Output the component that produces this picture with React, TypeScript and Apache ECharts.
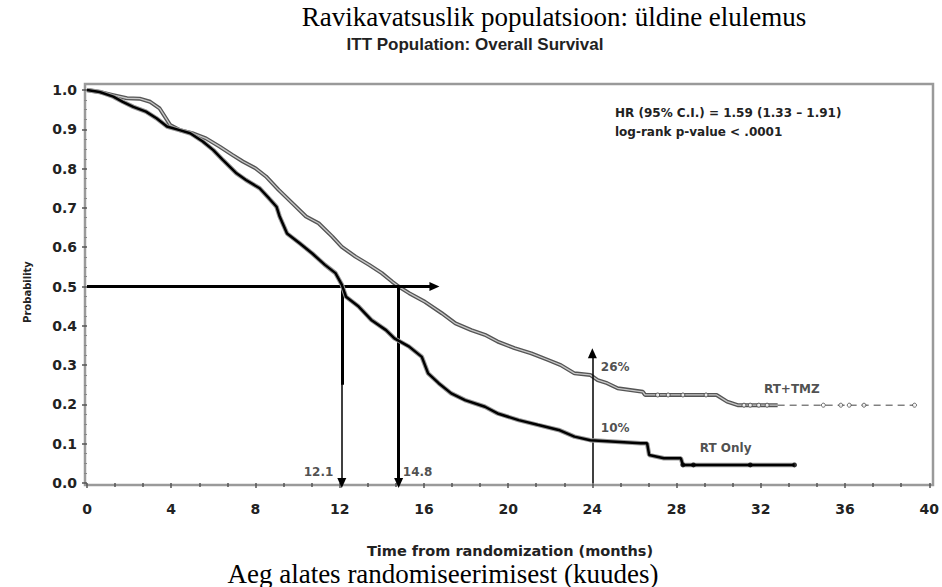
import React, { useEffect, useRef } from "react";
import * as echarts from "echarts";

// Kaplan-Meier estimates: [months, survival probability]
const rtTmzCurve: [number, number][] = [
  [0, 1.0], [0.6, 0.995], [1.25, 0.987], [1.9, 0.979], [2.5, 0.978], [3.0, 0.97],
  [3.45, 0.953], [3.7, 0.932], [3.95, 0.911], [4.4, 0.898], [5.0, 0.89], [5.65, 0.877],
  [6.3, 0.856], [6.9, 0.835], [7.4, 0.818], [8.0, 0.801], [8.5, 0.78], [9.1, 0.746],
  [9.75, 0.712], [10.4, 0.678], [11.0, 0.661], [11.65, 0.627], [12.1, 0.601], [12.75, 0.576],
  [13.4, 0.555], [14.0, 0.534], [14.5, 0.512], [14.8, 0.5], [15.3, 0.483], [16.05, 0.461],
  [16.85, 0.432], [17.5, 0.406], [18.25, 0.389], [18.9, 0.377], [19.5, 0.36], [20.3, 0.343],
  [21.1, 0.33], [21.9, 0.313], [22.5, 0.3], [23.15, 0.279], [23.9, 0.275], [24.25, 0.262],
  [24.7, 0.254], [25.2, 0.241], [26.4, 0.232], [26.5, 0.224], [29.9, 0.224], [30.4, 0.207],
  [30.9, 0.198], [32.8, 0.198],
];
const rtTmzTail: [number, number][] = [[32.8, 0.198], [39.3, 0.198]];
const rtTmzCensored: [number, number][] = [
  [27.1, 0.224], [27.6, 0.224], [28.3, 0.224], [29.4, 0.224], [31.2, 0.198], [31.5, 0.198],
  [31.9, 0.198], [32.3, 0.198], [34.97, 0.198], [35.8, 0.198], [36.2, 0.198], [36.9, 0.198],
  [39.3, 0.198],
];

const rtOnlyCurve: [number, number][] = [
  [0, 1.0], [0.6, 0.995], [1.25, 0.983], [1.7, 0.97], [2.2, 0.957], [2.8, 0.945],
  [3.3, 0.928], [3.8, 0.907], [4.4, 0.898], [4.9, 0.89], [5.5, 0.869], [6.0, 0.847],
  [6.45, 0.822], [7.1, 0.788], [7.55, 0.771], [8.2, 0.75], [8.65, 0.724], [9.0, 0.703],
  [9.15, 0.678], [9.5, 0.635], [10.1, 0.61], [10.7, 0.584], [11.3, 0.555], [11.8, 0.534],
  [12.1, 0.505], [12.3, 0.474], [12.9, 0.449], [13.5, 0.415], [14.2, 0.389], [14.6, 0.368],
  [15.3, 0.347], [15.9, 0.321], [16.2, 0.279], [16.7, 0.254], [17.3, 0.228], [17.95, 0.211],
  [18.9, 0.194], [19.5, 0.177], [20.5, 0.16], [21.4, 0.148], [22.4, 0.135], [23.15, 0.118],
  [23.9, 0.109], [26.3, 0.101], [26.6, 0.101], [26.7, 0.071], [27.4, 0.063], [28.2, 0.063],
  [28.3, 0.046], [33.6, 0.046],
];
const rtOnlyCensored: [number, number][] = [[28.3, 0.046], [28.8, 0.046], [31.5, 0.046], [33.6, 0.046]];

const medianRtOnly = 12.1;
const medianRtTmz = 14.8;
const landmarkMonth = 24;

const annotations: { text: string; at: [number, number]; align: "left" | "right" }[] = [
  { text: "12.1", at: [11.7, 0.028], align: "right" },
  { text: "14.8", at: [15.0, 0.028], align: "left" },
  { text: "26%", at: [24.4, 0.295], align: "left" },
  { text: "10%", at: [24.4, 0.14], align: "left" },
  { text: "RT+TMZ", at: [32.15, 0.24], align: "left" },
  { text: "RT Only", at: [29.1, 0.089], align: "left" },
];

const SANS = "'Liberation Sans', Arial, sans-serif";
const WIDE = "'DejaVu Sans', Verdana, sans-serif";
const SERIF = "'Liberation Serif', 'Times New Roman', serif";

export default function App() {
  const ref = useRef<HTMLDivElement>(null);
  useEffect(() => {
    if (!ref.current) return;
    const chart = echarts.init(ref.current, undefined, { renderer: "svg" });
    const arrowLine = (from: [number, number], to: [number, number], width: number, arrow: boolean) => ({
      silent: true,
      label: { show: false },
      symbol: ["none", arrow ? "triangle" : "none"],
      symbolSize: [9, 10],
      lineStyle: { color: "#000", width, type: "solid" },
      data: [[{ coord: from }, { coord: to }]],
    });
    chart.setOption({
      animation: false,
      backgroundColor: "#fff",
      grid: { left: 87, right: 10, top: 90, bottom: 104 },
      xAxis: {
        type: "value", min: 0, max: 40, interval: 4,
        axisLine: { show: false },
        axisTick: { show: true, length: 5, lineStyle: { color: "#555", width: 1.5 } },
        minorTick: { show: true, splitNumber: 3, length: 4, lineStyle: { color: "#555", width: 1.5 } },
        splitLine: { show: false },
        axisLabel: { fontFamily: WIDE, fontWeight: "bold", fontSize: 14, color: "#222", margin: 19 },
      },
      yAxis: {
        type: "value", min: 0, max: 1, interval: 0.1,
        axisLine: { show: false },
        axisTick: { show: true, length: 5, lineStyle: { color: "#555", width: 1.5 } },
        minorTick: { show: true, splitNumber: 4, length: 3, lineStyle: { color: "#888" } },
        splitLine: { show: false },
        axisLabel: {
          fontFamily: WIDE, fontWeight: "bold", fontSize: 14, color: "#222", margin: 10,
          formatter: (v: number) => v.toFixed(1),
        },
      },
      graphic: [
        { type: "rect", z: 0, shape: { x: 85, y: 84, width: 848, height: 401 }, style: { fill: "none", stroke: "#9a9a9a", lineWidth: 2.5 } },
        { type: "text", x: 554, y: 30, style: { text: "Ravikavatsuslik populatsioon: üldine elulemus", font: `27px ${SERIF}`, fill: "#000", textAlign: "center", textVerticalAlign: "bottom" } },
        { type: "text", x: 475, y: 53, style: { text: "ITT Population: Overall Survival", font: `bold 17px ${SANS}`, fill: "#222", textAlign: "center", textVerticalAlign: "bottom" } },
        { type: "text", x: 510, y: 558, style: { text: "Time from randomization (months)", font: `bold 14.5px ${WIDE}`, fill: "#222", textAlign: "center", textVerticalAlign: "bottom" } },
        { type: "text", x: 443, y: 587, style: { text: "Aeg alates randomiseerimisest (kuudes)", font: `27px ${SERIF}`, fill: "#000", textAlign: "center", textVerticalAlign: "bottom" } },
        { type: "text", x: 27, y: 292, rotation: Math.PI / 2, style: { text: "Probability", font: `bold 10px ${WIDE}`, fill: "#222", textAlign: "center", textVerticalAlign: "middle" } },
        { type: "text", x: 615, y: 113, style: { text: "HR (95% C.I.) = 1.59 (1.33 – 1.91)", font: `bold 12px ${WIDE}`, fill: "#222", textVerticalAlign: "middle" } },
        { type: "text", x: 615, y: 132, style: { text: "log-rank p-value < .0001", font: `bold 12px ${WIDE}`, fill: "#222", textVerticalAlign: "middle" } },
      ],
      series: [
        { type: "line", data: rtTmzCurve, showSymbol: false, symbol: "none", z: 3, lineStyle: { color: "#555", width: 4 } },
        { type: "line", data: rtTmzCurve, showSymbol: false, symbol: "none", z: 4, lineStyle: { color: "#c8c8c8", width: 1.3 } },
        { type: "line", data: rtTmzTail, showSymbol: false, symbol: "none", z: 3, lineStyle: { color: "#444", width: 1, type: [7, 5] } },
        { type: "scatter", data: rtTmzCensored, symbol: "circle", symbolSize: 4, z: 5, itemStyle: { color: "#fff", borderColor: "#444", borderWidth: 1 } },
        { type: "line", data: rtOnlyCurve, showSymbol: false, symbol: "none", z: 5, lineStyle: { color: "#999", width: 4.5 } },
        { type: "line", data: rtOnlyCurve, showSymbol: false, symbol: "none", z: 6, lineStyle: { color: "#000", width: 2.5 } },
        { type: "scatter", data: rtOnlyCensored, symbol: "circle", symbolSize: 5, z: 6, itemStyle: { color: "#000" } },
        { type: "line", data: [], z: 7, markLine: arrowLine([0, 0.5], [16.5, 0.5], 3, true) },
        { type: "line", data: [], z: 7, markLine: arrowLine([medianRtOnly, 0.5], [medianRtOnly, 0], 1.5, true) },
        { type: "line", data: [], z: 7, markLine: arrowLine([medianRtOnly, 0.5], [medianRtOnly, 0.25], 3, false) },
        { type: "line", data: [], z: 7, markLine: arrowLine([medianRtTmz, 0.5], [medianRtTmz, 0], 3, true) },
        { type: "line", data: [], z: 7, markLine: arrowLine([landmarkMonth, 0], [landmarkMonth, 0.33], 1.5, true) },
        {
          type: "scatter", z: 8, symbolSize: 0, silent: true,
          data: annotations.map((a) => ({
            value: a.at,
            label: {
              show: true, position: "inside", formatter: a.text, align: a.align,
              fontFamily: WIDE, fontWeight: "bold", fontSize: 12, color: "#222",
            },
          })),
        },
      ],
    });
    return () => chart.dispose();
  }, []);
  return <div ref={ref} style={{ position: "fixed", left: 0, top: 0, width: 942, height: 587 }} />;
}
